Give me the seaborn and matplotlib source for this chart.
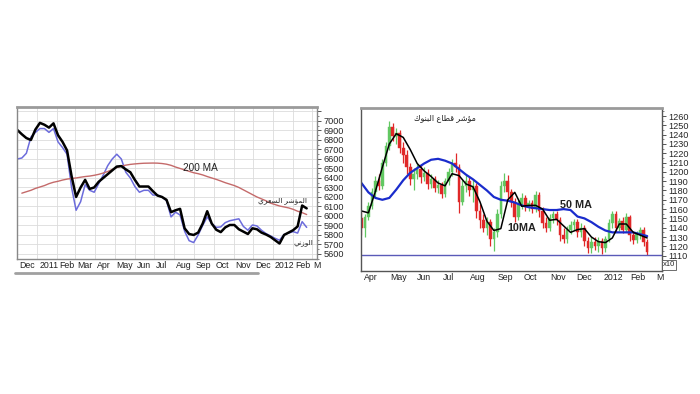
import pandas as pd
import matplotlib
matplotlib.use("Agg")
import matplotlib.pyplot as plt
import matplotlib.dates as mdates
import matplotlib.transforms as mtrans
from matplotlib.lines import Line2D
import seaborn as sns

# ---- left chart: weekly values, Dec 2010 - Feb 2012 ----
price_idx = [6905, 6860, 6820, 6800, 6910, 6980, 6960, 6930, 6975, 6850,
             6780, 6690, 6420, 6200, 6300, 6380, 6285, 6300, 6360, 6400,
             6440, 6480, 6520, 6525, 6490, 6460, 6380, 6310, 6310, 6310,
             6260, 6215, 6200, 6170, 6040, 6060, 6075, 5870, 5810, 5800,
             5825, 5920, 6050, 5920, 5855, 5830, 5880, 5905, 5905, 5860,
             5835, 5810, 5870, 5860, 5825, 5805, 5780, 5745, 5710, 5800,
             5825, 5850, 5890, 6110, 6080]
weighted_idx = [6600, 6610, 6660, 6830, 6880, 6920, 6920, 6880, 6920, 6780,
                6720, 6650, 6300, 6060, 6150, 6330, 6270, 6250, 6340, 6430,
                6530, 6600, 6650, 6600, 6460, 6400, 6310, 6250, 6270, 6270,
                6220, 6220, 6200, 6160, 5990, 6040, 6010, 5840, 5740, 5720,
                5800, 5900, 5990, 5920, 5880, 5885, 5930, 5950, 5960, 5970,
                5890, 5850, 5905, 5895, 5850, 5815, 5790, 5765, 5745, 5805,
                5820, 5835, 5820, 5940, 5880]
ma200 = [None, 6240, 6255, 6270, 6290, 6305, 6320, 6340, 6355, 6365,
         6378, 6388, 6395, 6400, 6408, 6415, 6420, 6428, 6438, 6452,
         6468, 6490, 6510, 6525, 6535, 6543, 6548, 6552, 6555, 6556,
         6557, 6556, 6552, 6545, 6533, 6515, 6500, 6485, 6470, 6455,
         6445, 6432, 6415, 6400, 6385, 6368, 6350, 6335, 6320, 6300,
         6275, 6250, 6225, 6200, 6180, 6160, 6135, 6120, 6105, 6095,
         6085, 6070, 6050, 6035, 6015]

# ---- right chart: banks sector, one candle every 4 days ----
bank_open = [1150, 1140, 1152, 1163, 1178, 1190, 1185, 1210, 1228, 1248,
             1238, 1242, 1226, 1218, 1205, 1192, 1198, 1203, 1194, 1199,
             1187, 1192, 1183, 1186, 1176, 1190, 1200, 1210, 1205, 1168,
             1185, 1190, 1180, 1185, 1158, 1148, 1140, 1146, 1128, 1135,
             1155, 1185, 1190, 1178, 1168, 1152, 1165, 1172, 1162, 1167,
             1160, 1175, 1158, 1145, 1140, 1150, 1155, 1148, 1132, 1128,
             1138, 1143, 1146, 1135, 1140, 1126, 1118, 1125, 1120, 1126,
             1118, 1128, 1145, 1155, 1140, 1147, 1138, 1152, 1132, 1127,
             1133, 1138, 1125]
bank_close = [1140, 1152, 1163, 1178, 1190, 1185, 1210, 1228, 1248, 1238,
              1242, 1226, 1218, 1205, 1192, 1198, 1203, 1194, 1199, 1187,
              1192, 1183, 1186, 1176, 1190, 1200, 1210, 1205, 1168, 1185,
              1190, 1180, 1185, 1158, 1148, 1140, 1146, 1128, 1135, 1155,
              1185, 1190, 1178, 1168, 1152, 1165, 1172, 1162, 1167, 1160,
              1175, 1158, 1145, 1140, 1150, 1155, 1148, 1132, 1128, 1138,
              1143, 1146, 1135, 1140, 1126, 1118, 1125, 1120, 1126, 1118,
              1128, 1145, 1155, 1140, 1147, 1138, 1152, 1132, 1127, 1133,
              1138, 1125, 1114]
bank_high = [1158, 1155, 1168, 1183, 1196, 1198, 1214, 1232, 1255, 1252,
             1247, 1245, 1232, 1224, 1210, 1204, 1208, 1207, 1205, 1203,
             1198, 1196, 1191, 1189, 1193, 1204, 1214, 1220, 1208, 1191,
             1197, 1194, 1192, 1188, 1165, 1155, 1152, 1149, 1140, 1160,
             1190, 1199, 1197, 1182, 1172, 1170, 1177, 1175, 1170, 1170,
             1179, 1178, 1162, 1152, 1155, 1158, 1158, 1152, 1140, 1142,
             1147, 1149, 1149, 1145, 1143, 1130, 1130, 1130, 1130, 1129,
             1131, 1149, 1158, 1158, 1150, 1151, 1156, 1154, 1137, 1137,
             1141, 1141, 1128]
bank_low = [1132, 1130, 1148, 1160, 1173, 1180, 1182, 1206, 1224, 1233,
            1230, 1220, 1210, 1198, 1186, 1180, 1192, 1188, 1190, 1182,
            1183, 1178, 1177, 1172, 1173, 1186, 1196, 1200, 1156, 1164,
            1178, 1174, 1168, 1150, 1140, 1135, 1132, 1120, 1115, 1130,
            1150, 1178, 1170, 1162, 1146, 1148, 1160, 1158, 1158, 1156,
            1157, 1152, 1140, 1135, 1137, 1145, 1143, 1126, 1124, 1124,
            1133, 1138, 1130, 1130, 1120, 1113, 1113, 1116, 1114, 1112,
            1114, 1125, 1140, 1135, 1136, 1134, 1135, 1126, 1123, 1124,
            1128, 1120, 1111]
# moving averages, every 8 days
ma10 = [1158, 1156, 1179, 1205, 1230, 1241, 1237, 1224, 1209, 1201,
        1195, 1188, 1185, 1198, 1196, 1187, 1184, 1168, 1147, 1137,
        1139, 1170, 1178, 1163, 1164, 1164, 1160, 1148, 1149, 1142,
        1135, 1138, 1139, 1130, 1125, 1124, 1129, 1144, 1144, 1135,
        1132, 1129]
ma50 = [1188, 1178, 1172, 1170, 1172, 1181, 1191, 1199, 1204, 1209,
        1213, 1214, 1212, 1209, 1203, 1197, 1192, 1186, 1180, 1173,
        1170, 1169, 1167, 1164, 1162, 1161, 1160, 1159, 1159, 1160,
        1159, 1152, 1150, 1146, 1141, 1137, 1135, 1135, 1135, 1135,
        1133, 1131]
support_level = 1111

left_labels = ['Dec', '2011', 'Feb', 'Mar', 'Apr', 'May', 'Jun', 'Jul', 'Aug',
               'Sep', 'Oct', 'Nov', 'Dec', '2012', 'Feb', 'M']
right_labels = ['Apr', 'May', 'Jun', 'Jul', 'Aug', 'Sep', 'Oct', 'Nov', 'Dec',
                '2012', 'Feb', 'M']

# Arabic labels (presentation forms, visual order)
price_lbl = "\uFEF1\uFEAE\uFECC\uFEB4\uFEDF\uFE8D \uFEAE\uFEB7\uFE86\uFEE4\uFEDF\uFE8D"
weighted_lbl = "\uFEF2\uFEE7\uFEAF\uFEEE\uFEDF\uFE8D"
bank_title = ("\uFED9\uFEEE\uFEE8\uFE92\uFEDF\uFE8D \uFEC9\uFE8E\uFEC4\uFED7 "
              "\uFEAE\uFEB7\uFE86\uFEE3")

sns.set_style("white")
plt.rcParams['font.family'] = ['Liberation Sans', 'DejaVu Sans']

weeks = mdates.date2num(pd.date_range('2010-12-01', periods=len(price_idx), freq='7D'))
candle_days = mdates.date2num(pd.date_range('2011-03-31', periods=len(bank_close), freq='4D'))
ma_days = mdates.date2num(pd.date_range('2011-03-31', periods=len(ma10), freq='8D'))


def d(s):
    return mdates.date2num(pd.Timestamp(s))


def month_axis(ax, start, n, labels, minor):
    ticks = mdates.date2num(pd.date_range(start, periods=n, freq='MS'))
    ax.set_xticks(ticks)
    ax.set_xticklabels(labels, fontsize=6.3, color='#222222')
    ax.set_xticks(minor, minor=True)
    ax.tick_params(axis='x', which='major', direction='out', length=8.5,
                   width=0.8, pad=-7, color='#555555')
    ax.tick_params(axis='x', which='minor', direction='out', length=2.5,
                   width=0.6, color='#555555')
    shift = mtrans.ScaledTranslation(1.3 / 72, 0, ax.figure.dpi_scale_trans)
    for lbl in ax.get_xticklabels():
        lbl.set_ha('left')
        lbl.set_transform(lbl.get_transform() + shift)


fig = plt.figure(figsize=(7, 3.94), dpi=100)
fig.patch.set_facecolor('white')

# ---------------- left chart ----------------
ax1 = fig.add_axes([17 / 700, 1 - 259 / 394, 300 / 700, 152 / 394])
sns.lineplot(x=weeks, y=weighted_idx, ax=ax1, color='#6c6cdc', lw=1.1)
sns.lineplot(x=weeks, y=ma200, ax=ax1, color='#c46a6a', lw=1.0)
sns.lineplot(x=weeks, y=price_idx, ax=ax1, color='black', lw=1.8)
ax1.set_xlim(d('2010-12-01') - 0.5, d('2010-12-01') + 464)
ax1.set_ylim(5547, 7147)
ax1.set_yticks(range(5600, 7200, 100))
ax1.set_yticklabels([str(v) for v in range(5600, 7100, 100)] + [''])
ax1.set_yticks(range(5550, 7150, 50), minor=True)
ax1.yaxis.tick_right()
ax1.tick_params(axis='y', which='major', direction='out', length=3,
                width=0.7, pad=1.5, labelsize=6.6, color='#555555')
ax1.tick_params(axis='y', which='minor', direction='out', length=1.5,
                width=0.5, color='#555555')
month_axis(ax1, '2010-12-01', 16, left_labels, weeks)
ax1.grid(True, which='major', color='#dcdcdc', lw=0.6)
ax1.set_xlabel('')
ax1.set_ylabel('')
for side in ['left', 'right', 'bottom']:
    ax1.spines[side].set_color('#888888')
    ax1.spines[side].set_linewidth(1.0)
ax1.spines['top'].set_color('#9a9a9a')
ax1.spines['top'].set_linewidth(2.0)

ax1.text(d('2011-08-15'), 6505, '200 MA', fontsize=7.2, color='#222222',
         va='center', ha='left')
ax1.text(d('2012-02-22'), 6162, price_lbl, fontsize=5.3, color='#222222',
         va='center', ha='right')
ax1.text(d('2012-03-04'), 5716, weighted_lbl, fontsize=5.3, color='#222222',
         va='center', ha='right')

fig.add_artist(Line2D([15 / 700, 258 / 700], [1 - 273 / 394] * 2,
                      color='#a0a0a0', lw=2))

# ---------------- right chart ----------------
ax2 = fig.add_axes([361 / 700, 1 - 271 / 394, 301 / 700, 163 / 394])
for x, o, c, h, l in zip(candle_days, bank_open, bank_close, bank_high, bank_low):
    col = '#62c862' if c >= o else '#e02828'
    ax2.vlines(x, l, h, color=col, lw=0.9)
    ax2.bar(x, c - o, bottom=o, width=3.0, color=col, edgecolor=col, lw=0.3)
ax2.axhline(support_level, color='#5a5ab8', lw=1.0)
sns.lineplot(x=ma_days, y=ma50, ax=ax2, color='#1a2ccc', lw=1.6)
sns.lineplot(x=ma_days, y=ma10, ax=ax2, color='black', lw=1.1)
ax2.set_xlim(d('2011-03-30') + 0.5, d('2011-03-30') + 346)
ax2.set_ylim(1093.5, 1268.6)
ax2.set_yticks(range(1110, 1270, 10))
ax2.set_yticks(range(1095, 1270, 5), minor=True)
ax2.yaxis.tick_right()
ax2.tick_params(axis='y', which='major', direction='out', length=3,
                width=0.7, pad=1.5, labelsize=6.6, color='#555555')
ax2.tick_params(axis='y', which='minor', direction='out', length=1.5,
                width=0.5, color='#555555')
month_axis(ax2, '2011-04-01', 12, right_labels,
           mdates.date2num(pd.date_range('2011-04-01', '2012-03-10', freq='7D')))
ax2.set_xlabel('')
ax2.set_ylabel('')
for side in ['left', 'right', 'bottom']:
    ax2.spines[side].set_color('#555555')
    ax2.spines[side].set_linewidth(1.0)
ax2.spines['top'].set_color('#9a9a9a')
ax2.spines['top'].set_linewidth(2.0)

ax2.text(d('2011-07-05'), 1258, bank_title, fontsize=5.8, color='#222222',
         va='center', ha='center')
ax2.text(d('2011-09-14'), 1139.5, '10MA', fontsize=7.8, color='#222222',
         va='center', ha='left', fontweight='bold')
ax2.text(d('2011-11-14'), 1164.5, '50 MA', fontsize=7.8, color='#222222',
         va='center', ha='left', fontweight='bold')
fig.text(669 / 700, 1 - 265 / 394, 'x10', fontsize=5.5, ha='center', va='center',
         bbox=dict(boxstyle='square,pad=0.15', fc='white', ec='#555555', lw=0.6))

fig.savefig('out.png', dpi=100, facecolor='white')
